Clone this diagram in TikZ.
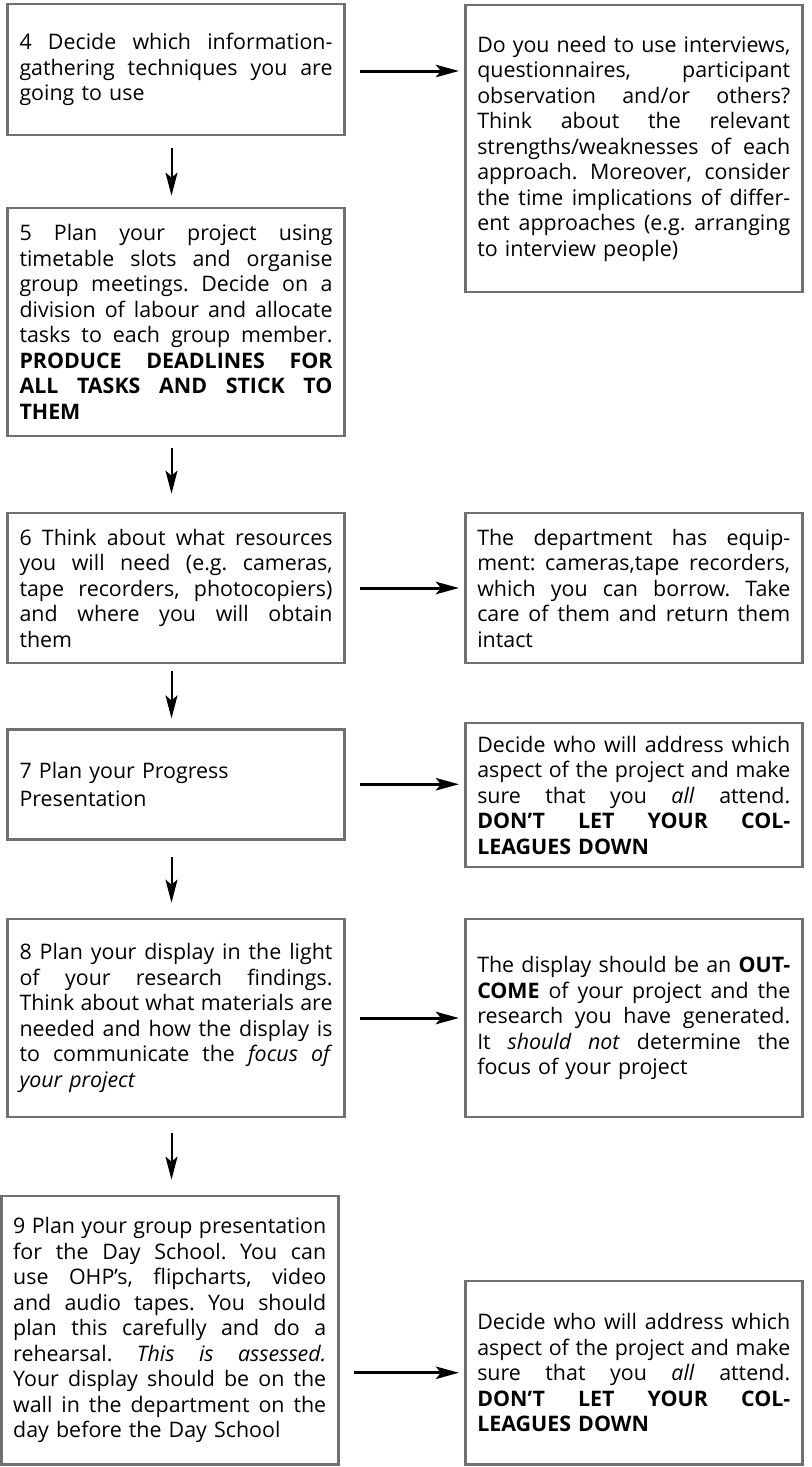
\documentclass[tikz,border=0pt]{standalone}
\usepackage{fontspec}
\setmainfont{Open Sans}
\usepackage{graphicx}
\usetikzlibrary{arrows.meta}
\definecolor{boxgray}{HTML}{707070}
\newlength\tw \setlength\tw{156.5pt}
\newlength\jw
\newcommand\jset{\frenchspacing\spaceskip=0pt\relax\xspaceskip=0pt\relax}
\newcommand\J[1]{\settowidth\jw{\jset#1}\ifdim\jw>\tw\resizebox{\tw}{\height}{\jset#1}\else\makebox[\tw][s]{\jset#1}\fi}
\begin{document}
\begin{tikzpicture}[x=0.5pt,y=-0.5pt,
  box/.style={draw=boxgray,line width=1.35pt,text width=156.5pt,inner xsep=6pt,inner ysep=0pt,
    align=left,font=\fontsize{10.7}{12.75}\selectfont\frenchspacing},
  harrow/.style={line width=1.5pt,-{Stealth[length=11.5pt,width=6.2pt,inset=2.5pt]},shorten <=7pt,shorten >=2.5pt},
  varrow/.style={line width=1pt,-{Stealth[length=11.5pt,width=6pt,inset=2.5pt]}}]
\useasboundingbox (0,0) rectangle (811,1467);
\coordinate (ax) at (171.5,0);

% left column
\node[box,minimum height=65.5pt] (B4) at (176,69.5) {%
\J{4 Decide which information-}\\
\J{gathering techniques you are}\\
going to use};

\node[box,minimum height=114pt] (B5) at (176,322) {%
\J{5 Plan your project using}\\
\J{timetable slots and organise}\\
\J{group meetings. Decide on a}\\
\J{division of labour and allocate}\\
\J{tasks to each group member.}\\
\J{\textbf{PRODUCE DEADLINES FOR}}\\
\J{\textbf{ALL TASKS AND STICK TO}}\\
\textbf{THEM}};

\node[box,minimum height=75pt] (B6) at (176,588) {%
\J{6 Think about what resources}\\
\J{you will need (e.g. cameras,}\\
\J{tape recorders, photocopiers)}\\
\J{and where you will obtain}\\
them};

\node[box,minimum height=55pt,font=\fontsize{10.7}{14}\selectfont] (B7) at (176,784.25) {%
7 Plan your Progress\\
Presentation};

\node[box,minimum height=99pt] (B8) at (176,1018) {%
\J{8 Plan your display in the light}\\
\J{of your research findings.}\\
\J{Think about what materials are}\\
\J{needed and how the display is}\\
\J{to communicate the \textit{focus of}}\\
\textit{your project}};

\node[box,minimum height=134.25pt] (B9) at (169.7,1330.25) {%
\J{9 Plan your group presentation}\\
\J{for the Day School. You can}\\
\J{use OHP's, flipcharts, video}\\
\J{and audio tapes. You should}\\
\J{plan this carefully and do a}\\
\J{rehearsal. \textit{This is assessed.}}\\
\J{Your display should be on the}\\
\J{wall in the department on the}\\
day before the Day School};

% right column
\node[box,minimum height=143.5pt] (R1) at (633.75,148.5) {%
\J{Do you need to use interviews,}\\
\J{questionnaires, participant}\\
\J{observation and/or others?}\\
\J{Think about the relevant}\\
\J{strengths/weaknesses of each}\\
\J{approach. Moreover, consider}\\
\J{the time implications of differ-}\\
\J{ent approaches (e.g. arranging}\\
to interview people)};

\node[box,minimum height=75pt] (R6) at (633.75,588) {%
\J{The department has equip-}\\
\J{ment: cameras,tape recorders,}\\
\J{which you can borrow. Take}\\
\J{care of them and return them}\\
intact};

\node[box,minimum height=72pt] (R7) at (633.75,795) {%
\J{Decide who will address which}\\
\J{aspect of the project and make}\\
\J{sure that you \textit{all} attend.}\\
\J{\textbf{DON'T LET YOUR COL-}}\\
\textbf{LEAGUES DOWN}};

\node[box,minimum height=99pt] (R8) at (633.75,1018) {%
\J{The display should be an \textbf{OUT-}}\\
\J{\textbf{COME} of your project and the}\\
\J{research you have generated.}\\
\J{It \textit{should not} determine the}\\
focus of your project};

\node[box,minimum height=91.75pt] (R9) at (633.75,1372.75) {%
\J{Decide who will address which}\\
\J{aspect of the project and make}\\
\J{sure that you \textit{all} attend.}\\
\J{\textbf{DON'T LET YOUR COL-}}\\
\textbf{LEAGUES DOWN}};

% horizontal arrows
\draw[harrow] ([yshift=-0.75pt]B4.east) -- ([yshift=-0.75pt]B4.east -| R1.west);
\draw[harrow] (B6.east) -- (R6.west);
\draw[harrow] (B7.east) -- (B7.east -| R7.west);
\draw[harrow] (B8.east) -- (R8.west);
\draw[harrow] (R9.west -| B9.east) -- (R9.west);

% vertical arrows
\draw[varrow,shorten <=6pt,shorten >=5.5pt] (B4.south -| ax) -- (B5.north -| ax);
\draw[varrow,shorten <=5.5pt,shorten >=9pt] (B5.south -| ax) -- (B6.north -| ax);
\draw[varrow,shorten <=3.5pt,shorten >=4.75pt] (B6.south -| ax) -- (B7.north -| ax);
\draw[varrow,shorten <=8pt,shorten >=7.5pt] (B7.south -| ax) -- (B8.north -| ax);
\draw[varrow,shorten <=7.5pt,shorten >=7.5pt] (B8.south -| ax) -- (B9.north -| ax);
\end{tikzpicture}
\end{document}
